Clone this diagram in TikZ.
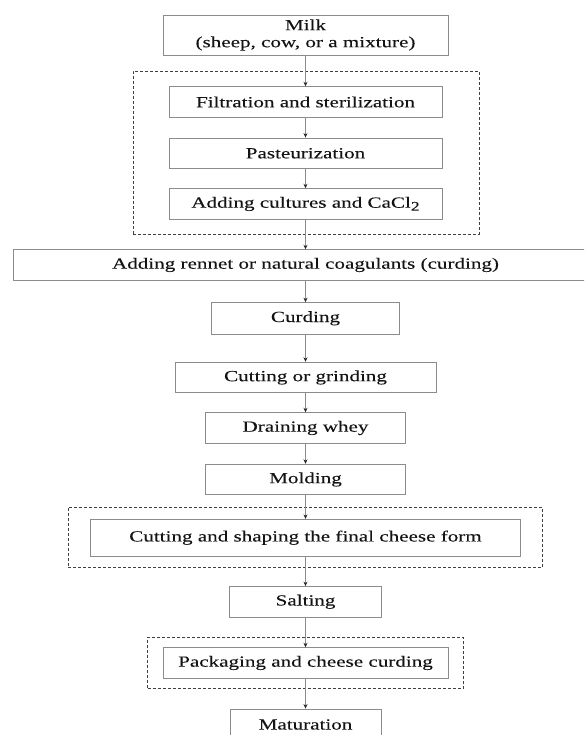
\documentclass[tikz,border=0pt]{standalone}
\usepackage{fontspec}
\setmainfont{Liberation Serif}[FakeStretch=1.36,FakeBold=0.12]
\usetikzlibrary{arrows.meta}
\definecolor{boxgray}{gray}{0.55}
\definecolor{txt}{gray}{0.08}
\begin{document}
\begin{tikzpicture}[x=1pt,y=-1pt,
  box/.style={draw=boxgray, line width=0.9pt, minimum height=30.5pt, inner sep=0pt,
    font=\fontsize{15.5}{17}\selectfont, text=txt, align=center},
  grp/.style={draw=black!75, dash pattern=on 3pt off 2pt, line width=0.8pt, inner sep=0pt},
  conn/.style={draw=boxgray, line width=0.9pt, -{Stealth[length=4.5pt,width=4pt,color=black!85]}}
]
\useasboundingbox (0,0) rectangle (584,735);
\clip (0,0) rectangle (584,735);

% dashed groups
\node[grp, minimum width=346pt, minimum height=163pt] (g1) at (306,152.5) {};
\node[grp, minimum width=474pt, minimum height=60.7pt] (g2) at (305.3,537.3) {};
\node[grp, minimum width=315.6pt, minimum height=51.4pt] (g3) at (305.5,663) {};

% steps
\node[box, minimum width=285pt, minimum height=40pt] (milk) at (305.5,35) {Milk\\(sheep, cow, or a mixture)};
\node[box, minimum width=273pt] (filt) at (305.5,102) {Filtration and sterilization};
\node[box, minimum width=273pt] (past) at (305.5,153.3) {Pasteurization};
\node[box, minimum width=273pt] (cult) at (305.5,204) {Adding cultures and CaCl\raisebox{-0.4ex}{\fontsize{13}{13}\selectfont 2}};
\node[box, minimum width=585pt] (rennet) at (305.5,265) {Adding rennet or natural coagulants (curding)};
\node[box, minimum width=188pt, minimum height=31.3pt] (curd) at (305.5,318.3) {Curding};
\node[box, minimum width=261pt] (cutg) at (305.5,377.5) {Cutting or grinding};
\node[box, minimum width=200pt] (drain) at (305.5,428) {Draining whey};
\node[box, minimum width=200pt] (mold) at (305.5,479.5) {Molding};
\node[box, minimum width=430.7pt, minimum height=36.7pt] (cuts) at (305.5,537.7) {Cutting and shaping the final cheese form};
\node[box, minimum width=152pt] (salt) at (305.5,601.8) {Salting};
\node[box, minimum width=285pt] (pack) at (305.5,663) {Packaging and cheese curding};
\node[box, minimum width=151pt, minimum height=31pt] (mat) at (305.5,724.5) {Maturation};

% connectors
\draw[conn] (milk) -- (filt);
\draw[conn] (filt) -- (past);
\draw[conn] (past) -- (cult);
\draw[conn] (cult) -- (rennet);
\draw[conn] (rennet) -- (curd);
\draw[conn] (curd) -- (cutg);
\draw[conn] (cutg) -- (drain);
\draw[conn] (drain) -- (mold);
\draw[conn] (mold) -- (cuts);
\draw[conn] (cuts) -- (salt);
\draw[conn] (salt) -- (pack);
\draw[conn] (pack) -- (mat);
\end{tikzpicture}
\end{document}
